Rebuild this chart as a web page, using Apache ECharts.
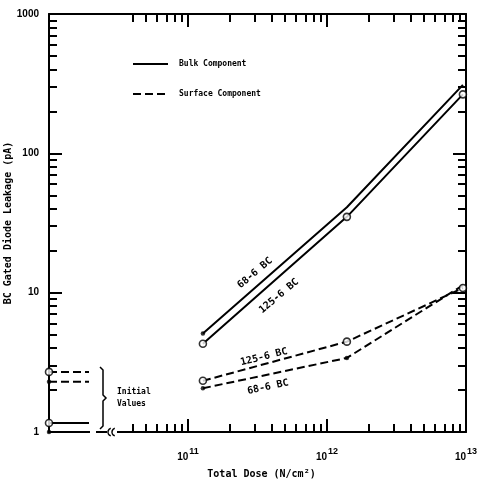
<!DOCTYPE html>
<html><head><meta charset="utf-8">
<script src="https://cdn.jsdelivr.net/npm/echarts@6.0.0/dist/echarts.min.js"></script>
<style>html,body{margin:0;padding:0;background:#fff}#c{width:485px;height:485px}</style>
</head><body><div id="c"></div>
<script>
// ---- data ----
var doses = [1.28e11, 1.39e12, 9.5e12];
var bulk68 = [5.1, 41, 310];
var bulk125 = [4.3, 35, 265];
var surf68 = [2.06, 3.4, 11.3];
var surf125 = [2.33, 4.45, 10.8];
// initial values (drawn at the left "initial values" strip)
var initX = [1e10, 1.94e10];
var initBulk68 = 1.0, initBulk125 = 1.16, initSurf68 = 2.29, initSurf125 = 2.7;
var yTickLabels = ['1', '10', '100', '1000'];
var xMinor = [4e10,5e10,6e10,7e10,8e10,9e10,2e11,3e11,4e11,5e11,6e11,7e11,8e11,9e11,2e12,3e12,4e12,5e12,6e12,7e12,8e12,9e12];
var yMinor = [2,3,4,5,6,7,8,9,20,30,40,50,60,70,80,90,200,300,400,500,600,700,800,900];

function pairs(xs, ys){ return xs.map(function(x,i){return [x, ys[i]];}); }
function pick(xs, ys, idx){ return idx.map(function(i){return [xs[i], ys[i]];}); }

var FONT = 'DejaVu Sans Mono';
var black = '#000';
function axisBase(pos, isX, major){
  var a = {
    type:'log', logBase:10, position:pos, gridIndex:0,
    min: isX ? 1e10 : 1, max: isX ? 1e13 : 1000,
    splitLine:{show:false},
    axisLine:{show:true, lineStyle:{color:black, width:2}},
    axisTick:{show:true, inside:true, length: major?13:8, lineStyle:{color:black, width:2}},
    axisLabel:{show:false}
  };
  if (!major){ a.axisLine = {show:false}; a.axisTick.customValues = isX ? xMinor : yMinor; }
  return a;
}
var xA0 = axisBase('bottom', true, true);
xA0.axisLabel = {show:true, margin:14, formatter:function(v){
    var e = Math.round(Math.log10(v));
    if (e < 11) return '';
    return '{b|10}{s|' + e + '}';
  },
  rich:{ b:{fontFamily:'Liberation Sans', fontWeight:'bold', fontSize:10, color:black, padding:[6,0,0,0]},
         s:{fontFamily:'Liberation Sans', fontWeight:'bold', fontSize:9, color:black, padding:[0,0,4,1]} }};
xA0.name = 'Total Dose (N/cm\u00B2)';
xA0.nameLocation = 'middle';
xA0.nameGap = 37;
xA0.nameMoveOverlap = false;
xA0.nameTextStyle = {fontFamily:FONT, fontWeight:'bold', fontSize:10, color:black, padding:[0,0,0,8]};
var xA1 = axisBase('bottom', true, false);
var xA2 = axisBase('top', true, true);
var xA3 = axisBase('top', true, false);

var yA0 = axisBase('left', false, true);
yA0.axisLabel = {show:true, margin:10, fontFamily:'Liberation Sans', fontWeight:'bold', fontSize:10, color:black,
  formatter:function(v){ var e = Math.round(Math.log10(v)); return yTickLabels[e]; }};
yA0.name = 'BC Gated Diode Leakage (pA)';
yA0.nameLocation = 'middle';
yA0.nameGap = 36;
yA0.nameMoveOverlap = false;
yA0.nameRotate = 90;
yA0.nameTextStyle = {fontFamily:FONT, fontWeight:'bold', fontSize:10, color:black};
var yA1 = axisBase('left', false, false);
var yA2 = axisBase('right', false, true);
var yA3 = axisBase('right', false, false);

function lineSeries(name, data, dashed){
  return {type:'line', name:name, data:data, xAxisIndex:0, yAxisIndex:0, symbol:'none', clip:false,
    itemStyle:{color:black}, lineStyle:{color:black, width:2, type: dashed ? [8,4] : 'solid'}, z:3, silent:true};
}
function markers(name, data, open){
  return {type:'scatter', name:name, data:data, xAxisIndex:0, yAxisIndex:0, clip:false,
    symbol:'circle', symbolSize: open ? 7 : 4.5,
    itemStyle: open ? {color:'#fff', borderColor:black, borderWidth:1.6} : {color:black},
    z:5, silent:true};
}

var series = [
  lineSeries('Bulk Component', pairs(doses, bulk68), false),
  lineSeries('Bulk Component', pairs(doses, bulk125), false),
  lineSeries('Surface Component', pairs(doses, surf68), true),
  lineSeries('Surface Component', pairs(doses, surf125), true),
  lineSeries('init bulk 68-6', pairs(initX, [initBulk68, initBulk68]), false),
  lineSeries('init bulk 125-6', pairs(initX, [initBulk125, initBulk125]), false),
  lineSeries('init surf 68-6', pairs(initX, [initSurf68, initSurf68]), true),
  lineSeries('init surf 125-6', pairs(initX, [initSurf125, initSurf125]), true),
  markers('125-6 BC points', pairs(doses, bulk125).concat(pairs(doses, surf125), [[initX[0], initBulk125],[initX[0], initSurf125]]), true),
  markers('68-6 BC points', pick(doses, bulk68, [0]).concat(pick(doses, surf68, [0,1]), [[initX[0], initBulk68],[initX[0], initSurf68]]), false)
];

var tStyle = {fontFamily:FONT, fontWeight:'bold', fontSize:8, fill:black};
var lStyle = {fontFamily:FONT, fontWeight:'bold', fontSize:10, fill:black};
function rotText(txt, x, y, deg){
  return {type:'text', x:x, y:y, rotation: deg*Math.PI/180, z:10,
    style: Object.assign({text:txt, align:'center', verticalAlign:'middle'}, lStyle)};
}

var option = {
  animation:false,
  color:[black],
  backgroundColor:'#fff',
  grid:{left:49, right:19, top:14, bottom:53, containLabel:false, outerBoundsMode:'none'},
  xAxis: [xA0, xA1, xA2, xA3], yAxis: [yA0, yA1, yA2, yA3],
  legend:{show:true, data:['Bulk Component','Surface Component'], orient:'vertical', left:132, top:60, padding:0,
    itemWidth:35, itemHeight:10, itemGap:22, selectedMode:false,
    itemStyle:{opacity:0},
    textStyle:{fontFamily:FONT, fontWeight:'bold', fontSize:8, color:black, padding:[0,0,0,6]}},
  series: series,
  graphic:[
    rotText('68-6 BC', 255, 273, 40),
    rotText('125-6 BC', 279, 296, 40),
    rotText('125-6 BC', 264, 357, 14),
    rotText('68-6 BC', 268, 387, 12),
    // axis break on the x axis
    {type:'rect', shape:{x:90, y:428, width:6, height:8}, style:{fill:'#fff'}, z:20},
    {type:'rect', shape:{x:107, y:428, width:10, height:8}, style:{fill:'#fff'}, z:20},
    {type:'arc', shape:{cx:112, cy:432, r:4, startAngle:Math.PI*0.6, endAngle:Math.PI*1.4}, style:{stroke:black, lineWidth:1.5, fill:null}, z:21},
    {type:'arc', shape:{cx:116, cy:432, r:4, startAngle:Math.PI*0.6, endAngle:Math.PI*1.4}, style:{stroke:black, lineWidth:1.5, fill:null}, z:21},
    // initial values bracket
    {type:'polyline', shape:{points:[[100,367],[103,370],[103,395],[106,398],[103,401],[103,426],[100,429]]}, style:{stroke:black, lineWidth:1.5, fill:null}, z:10},
    {type:'text', x:117, y:392, z:10, style:Object.assign({text:'Initial', align:'left', verticalAlign:'middle'}, tStyle)},
    {type:'text', x:117, y:404, z:10, style:Object.assign({text:'Values', align:'left', verticalAlign:'middle'}, tStyle)}
  ]
};
var chart = echarts.init(document.getElementById('c'), null, {renderer:'canvas'});
chart.setOption(option);
</script>
</body></html>
